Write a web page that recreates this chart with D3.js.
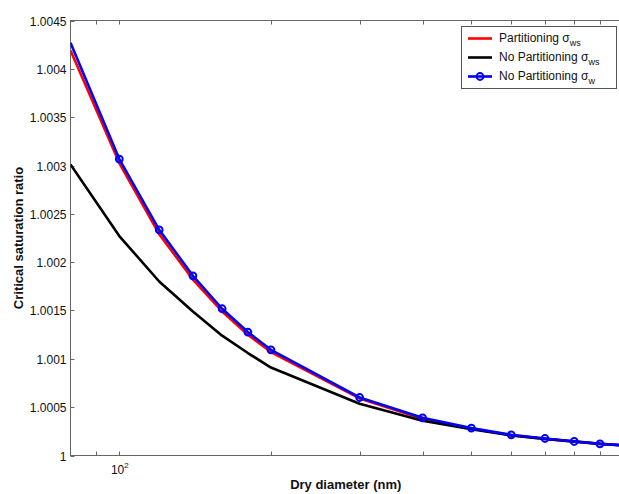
<!DOCTYPE html>
<meta charset="utf-8">
<head>
<style>
    body {margin: 0; background: #fff;}
    text {font-family: "Liberation Sans", Arial, sans-serif; fill: #111;}
    .axis-line {stroke: #666; stroke-width: 1; fill: none;}
</style>
</head>
<body>
<div class="chart"></div>
</body>
<script src="https://d3js.org/d3.v7.min.js"></script>
<script>
// dry diameters (nm)
var diameters = [80, 100, 120, 140, 160, 180, 200, 300, 400, 500, 600, 700, 800, 900, 1000];
// critical saturation ratios
var partitioningWs = [1.00419, 1.003025, 1.00229, 1.00182, 1.00149, 1.00125, 1.00107, 1.00059,
    1.00038, 1.00028, 1.00021, 1.000172, 1.000143, 1.00012, 1.000104];
var noPartitioningWs = [1.00301, 1.00227, 1.0018, 1.00149, 1.00124, 1.00106, 1.00091, 1.000535,
    1.00036, 1.000273, 1.000207, 1.000172, 1.000146, 1.00012, 1.000106];
var noPartitioningW = [1.00427, 1.003066, 1.002335, 1.001859, 1.001518, 1.001277, 1.001093, 1.0006,
    1.00039, 1.000283, 1.000214, 1.000176, 1.000145, 1.000121, 1.000105];

var yTicks = [1, 1.0005, 1.001, 1.0015, 1.002, 1.0025, 1.003, 1.0035, 1.004, 1.0045];
var xTicks = [90, 100, 200, 300, 400, 500, 600, 700, 800, 900, 1000];
// the 10^3 label falls past the right edge of the picture, so only 10^2 shows
var xTickLabels = [{value: 100, base: "10", exp: "2"}];

var legendItems = [
    {name: "Partitioning \u03c3", sub: "ws", color: "#ff0000", marker: false},
    {name: "No Partitioning \u03c3", sub: "ws", color: "#000000", marker: false},
    {name: "No Partitioning \u03c3", sub: "w", color: "#0000ff", marker: true}
];

var W = 619, H = 494;
var plot = {left: 70.5, right: 623, top: 20.5, bottom: 455.5};
var tickLen = 4;

var x = d3.scaleLog().domain([80, 1000]).range([plot.left, plot.right]);
var y = d3.scaleLinear().domain([1, 1.0045]).range([plot.bottom, plot.top]);

var svg = d3.select(".chart").append("svg")
    .attr("width", W)
    .attr("height", H);

svg.append("rect").attr("width", W).attr("height", H).attr("fill", "#fff");

svg.append("clipPath").attr("id", "clip")
    .append("rect")
    .attr("x", plot.left).attr("y", plot.top)
    .attr("width", plot.right - plot.left).attr("height", plot.bottom - plot.top);

// box
svg.append("rect").attr("class", "axis-line")
    .attr("x", plot.left).attr("y", plot.top)
    .attr("width", plot.right - plot.left).attr("height", plot.bottom - plot.top);

// y ticks (inward, left & right)
var fmt = function (v) { return String(+v.toFixed(4)); };
yTicks.forEach(function (t) {
    var py = Math.round(y(t)) + 0.5;
    svg.append("line").attr("class", "axis-line")
        .attr("x1", plot.left).attr("x2", plot.left + tickLen).attr("y1", py).attr("y2", py);
    svg.append("line").attr("class", "axis-line")
        .attr("x1", plot.right).attr("x2", plot.right - tickLen).attr("y1", py).attr("y2", py);
    svg.append("text")
        .attr("x", plot.left - 4).attr("y", py + 4.5)
        .attr("text-anchor", "end")
        .style("font-size", "12px")
        .text(fmt(t));
});

// x ticks (inward, bottom & top)
xTicks.forEach(function (t) {
    var px = Math.round(x(t)) + 0.5;
    svg.append("line").attr("class", "axis-line")
        .attr("x1", px).attr("x2", px).attr("y1", plot.bottom).attr("y2", plot.bottom - tickLen);
    svg.append("line").attr("class", "axis-line")
        .attr("x1", px).attr("x2", px).attr("y1", plot.top).attr("y2", plot.top + tickLen);
});

xTickLabels.forEach(function (d) {
    var t = svg.append("text")
        .attr("x", x(d.value) + 0.5).attr("y", plot.bottom + 18)
        .attr("text-anchor", "middle")
        .style("font-size", "12px");
    t.append("tspan").text(d.base);
    t.append("tspan").attr("dy", -6).style("font-size", "8px").text(d.exp);
});

// axis titles
svg.append("text")
    .attr("x", (plot.left + plot.right) / 2 - 1).attr("y", 489)
    .attr("text-anchor", "middle")
    .style("font-size", "13px").style("font-weight", "bold")
    .text("Dry diameter (nm)");

svg.append("text")
    .attr("transform", "translate(23," + ((plot.top + plot.bottom) / 2) + ") rotate(-90)")
    .attr("text-anchor", "middle")
    .style("font-size", "13px").style("font-weight", "bold")
    .text("Critical saturation ratio");

// series
var series = [
    {values: partitioningWs, color: "#ff0000", marker: false},
    {values: noPartitioningWs, color: "#000000", marker: false},
    {values: noPartitioningW, color: "#0000ff", marker: true}
];

var line = d3.line()
    .x(function (d) { return x(d[0]); })
    .y(function (d) { return y(d[1]); });

var g = svg.append("g").attr("clip-path", "url(#clip)");

series.forEach(function (s) {
    var pts = diameters.map(function (d, i) { return [d, s.values[i]]; });
    g.append("path")
        .datum(pts)
        .attr("d", line)
        .attr("fill", "none")
        .attr("stroke", s.color)
        .attr("stroke-width", 2.6)
        .attr("stroke-linejoin", "round");
    if (s.marker) {
        g.selectAll(".mk").data(pts.filter(function (p) { return p[0] > 80; }))
            .enter().append("circle")
            .attr("cx", function (p) { return x(p[0]); })
            .attr("cy", function (p) { return y(p[1]); })
            .attr("r", 3.4)
            .attr("fill", "none")
            .attr("stroke", s.color)
            .attr("stroke-width", 2);
    }
});

// legend
var lg = svg.append("g");
lg.append("rect")
    .attr("x", 461.5).attr("y", 26.5).attr("width", 155).attr("height", 62)
    .attr("fill", "#fff").attr("stroke", "#555").attr("stroke-width", 1);

legendItems.forEach(function (d, i) {
    var ly = 38.5 + i * 19;
    lg.append("line")
        .attr("x1", 468).attr("x2", 492).attr("y1", ly).attr("y2", ly)
        .attr("stroke", d.color).attr("stroke-width", 2.6);
    if (d.marker) {
        lg.append("circle").attr("cx", 480).attr("cy", ly).attr("r", 3.4)
            .attr("fill", "none").attr("stroke", d.color).attr("stroke-width", 2);
    }
    var t = lg.append("text").attr("x", 499).attr("y", ly + 3).style("font-size", "12px");
    t.append("tspan").text(d.name);
    t.append("tspan").attr("dy", 4).style("font-size", "9px").text(d.sub);
});
</script>
</body>
